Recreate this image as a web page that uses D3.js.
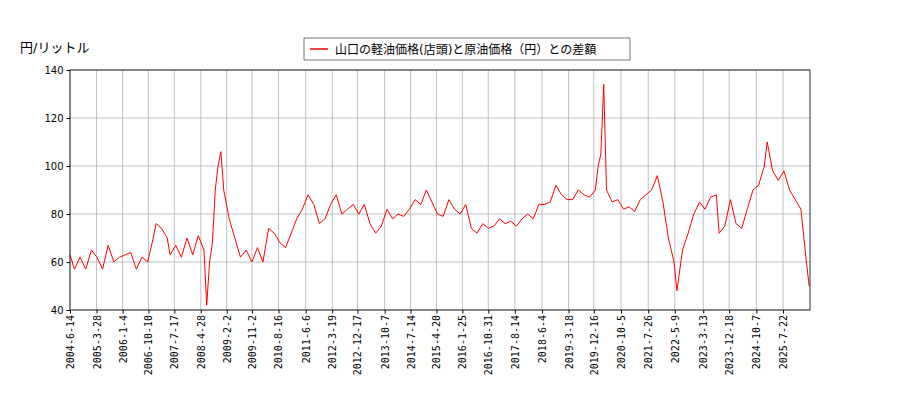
<!DOCTYPE html>
<html><head><meta charset="utf-8">
<script src="https://cdn.jsdelivr.net/npm/d3@7"></script>
<style>body{margin:0;background:#fff}text{font-family:"DejaVu Sans","Noto Sans CJK JP",sans-serif}</style>
</head><body><svg id="c" width="900" height="400"></svg>
<script>
const dates=["2004-06","2004-08","2004-10","2004-12","2005-02","2005-04","2005-06","2005-08","2005-10","2005-12","2006-02","2006-04","2006-06","2006-08","2006-10","2006-12","2007-01","2007-03","2007-05","2007-06","2007-08","2007-10","2007-12","2008-02","2008-04","2008-06","2008-07","2008-08","2008-09","2008-10","2008-11","2008-12","2009-01","2009-03","2009-05","2009-07","2009-09","2009-11","2010-01","2010-03","2010-05","2010-07","2010-09","2010-11","2011-01","2011-03","2011-05","2011-07","2011-09","2011-11","2012-01","2012-03","2012-05","2012-07","2012-09","2012-11","2013-01","2013-03","2013-05","2013-07","2013-09","2013-11","2014-01","2014-03","2014-05","2014-07","2014-09","2014-11","2015-01","2015-03","2015-05","2015-07","2015-09","2015-11","2016-01","2016-03","2016-05","2016-07","2016-09","2016-11","2017-01","2017-03","2017-05","2017-07","2017-09","2017-11","2018-01","2018-03","2018-05","2018-07","2018-09","2018-11","2019-01","2019-03","2019-05","2019-07","2019-09","2019-11","2020-01","2020-02","2020-03","2020-04","2020-05","2020-07","2020-09","2020-11","2021-01","2021-03","2021-05","2021-07","2021-09","2021-11","2022-01","2022-03","2022-05","2022-06","2022-08","2022-10","2022-12","2023-02","2023-04","2023-06","2023-08","2023-09","2023-11","2024-01","2024-03","2024-05","2024-07","2024-09","2024-11","2025-01","2025-02","2025-04","2025-06","2025-08","2025-10","2025-12","2026-02","2026-04","2026-05"];
const values=[63,57,62,57,65,62,57,67,60,62,63,64,57,62,60,70,76,74,70,63,67,62,70,63,71,65,42,60,68,90,100,106,90,78,70,62,65,60,66,60,74,72,68,66,72,78,82,88,84,76,78,84,88,80,82,84,80,84,76,72,75,82,78,80,79,82,86,84,90,85,80,79,86,82,80,84,74,72,76,74,75,78,76,77,75,78,80,78,84,84,85,92,88,86,86,90,88,87,90,100,105,134,90,85,86,82,83,81,86,88,90,96,85,70,60,48,65,72,80,85,82,87,88,72,75,86,76,74,82,90,92,100,110,98,94,98,90,86,82,60,50];
const tickLabels=["2004-6-14","2005-3-28","2006-1-4","2006-10-10","2007-7-17","2008-4-28","2009-2-2","2009-11-2","2010-8-16","2011-6-6","2012-3-19","2012-12-17","2013-10-7","2014-7-14","2015-4-20","2016-1-25","2016-10-31","2017-8-14","2018-6-4","2019-3-18","2019-12-16","2020-10-5","2021-7-26","2022-5-9","2023-3-13","2023-12-18","2024-10-7","2025-7-22"];
const yTicks=[40,60,80,100,120,140];
const p=d3.timeParse("%Y-%m-%d"), pm=d3.timeParse("%Y-%m");
const data=dates.map((d,i)=>({d:pm(d),v:values[i]}));
data[0].d=p("2004-06-14");
const svg=d3.select("#c");
const x=d3.scaleTime().domain([p("2004-06-14"),p("2026-05-10")]).range([70,810]);
const y=d3.scaleLinear().domain([40,140]).range([310,70]);
const tks=tickLabels.map(t=>p(t.split("-").map((s,i)=>i?s.padStart(2,"0"):s).join("-")));
const g=svg.append("g");
g.selectAll(".vx").data(tks).join("line").attr("x1",d=>x(d)).attr("x2",d=>x(d)).attr("y1",70).attr("y2",310).attr("stroke","#b0b0b0").attr("stroke-width",0.8);
g.selectAll(".hy").data(yTicks).join("line").attr("x1",70).attr("x2",810).attr("y1",d=>y(d)).attr("y2",d=>y(d)).attr("stroke","#b0b0b0").attr("stroke-width",0.8);
svg.append("path").datum(data).attr("fill","none").attr("stroke","red").attr("stroke-width",1)
 .attr("d",d3.line().x(d=>x(d.d)).y(d=>y(d.v)));
svg.append("rect").attr("x",70).attr("y",70).attr("width",740).attr("height",240).attr("fill","none").attr("stroke","#000").attr("stroke-width",0.8);
const ax=svg.append("g").attr("transform","translate(0,310)").call(d3.axisBottom(x).tickValues(tks).tickFormat((d,i)=>tickLabels[i]).tickSize(3.5));
ax.select(".domain").remove();
ax.selectAll("text").attr("transform","rotate(-90)").attr("text-anchor","end").attr("dx","-0.5em").attr("dy","-0.3em").attr("font-size",10).style("font-family","DejaVu Sans Mono");
const ay=svg.append("g").attr("transform","translate(70,0)").call(d3.axisLeft(y).tickValues(yTicks).tickSize(3.5));
ay.select(".domain").remove();
ay.selectAll("text").attr("font-size",10).style("font-family","DejaVu Sans");
svg.append("text").attr("x",20).attr("y",52).attr("font-size",13).text("円/リットル");
const lg=svg.append("g");
lg.append("rect").attr("x",304).attr("y",38).attr("width",326).attr("height",22).attr("fill","#fff").attr("stroke","#555").attr("stroke-width",0.8);
lg.append("line").attr("x1",310).attr("x2",328).attr("y1",49).attr("y2",49).attr("stroke","red").attr("stroke-width",1.5);
lg.append("text").attr("x",335).attr("y",53.5).attr("font-size",12).text("山口の軽油価格(店頭)と原油価格（円）との差額");
</script></body></html>
